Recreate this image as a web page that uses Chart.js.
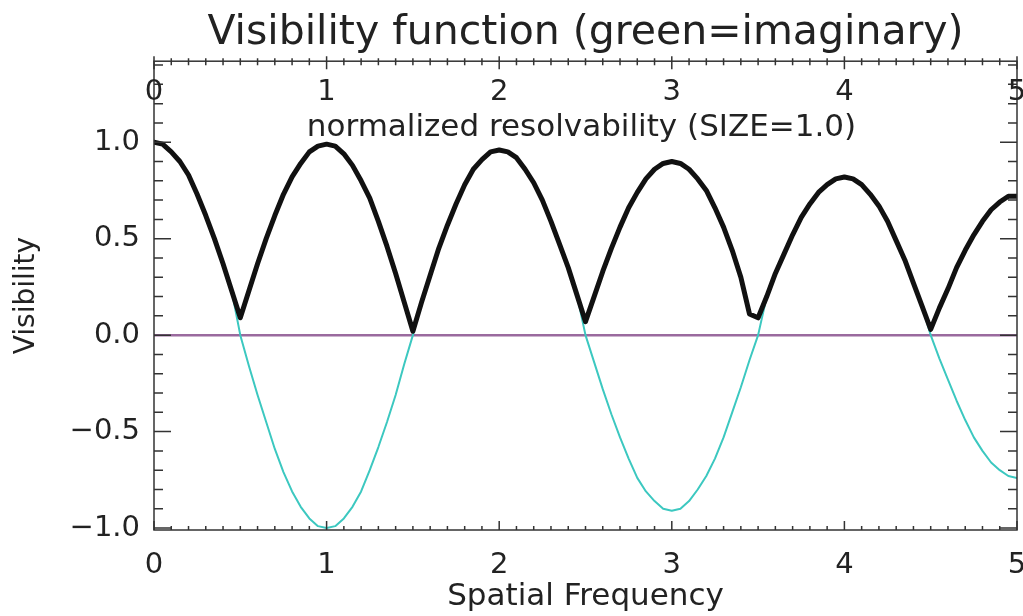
<!DOCTYPE html>
<html lang="en">
<head>
<meta charset="UTF-8">
<title>Visibility function</title>
<script src="https://cdn.jsdelivr.net/npm/chart.js"></script>
<style>
    html, body {
        margin: 0;
        padding: 0;
        background: #fff;
    }
    #wrap {
        width: 1023px;
        height: 616px;
    }
</style>
</head>
<body>
<div id="wrap"><canvas id="visChart"></canvas></div>
<script>
    // spatial frequency samples
    const freq = [
        0.00, 0.05, 0.10, 0.15, 0.20, 0.25, 0.30, 0.35, 0.40, 0.45,
        0.50, 0.55, 0.60, 0.65, 0.70, 0.75, 0.80, 0.85, 0.90, 0.95,
        1.00, 1.05, 1.10, 1.15, 1.20, 1.25, 1.30, 1.35, 1.40, 1.45,
        1.50, 1.55, 1.60, 1.65, 1.70, 1.75, 1.80, 1.85, 1.90, 1.95,
        2.00, 2.05, 2.10, 2.15, 2.20, 2.25, 2.30, 2.35, 2.40, 2.45,
        2.50, 2.55, 2.60, 2.65, 2.70, 2.75, 2.80, 2.85, 2.90, 2.95,
        3.00, 3.05, 3.10, 3.15, 3.20, 3.25, 3.30, 3.35, 3.40, 3.45,
        3.50, 3.55, 3.60, 3.65, 3.70, 3.75, 3.80, 3.85, 3.90, 3.95,
        4.00, 4.05, 4.10, 4.15, 4.20, 4.25, 4.30, 4.35, 4.40, 4.45,
        4.50, 4.55, 4.60, 4.65, 4.70, 4.75, 4.80, 4.85, 4.90, 4.95,
        5.00
    ];

    // |V| (thick black)
    const visAmp = [
        1.00, 0.99, 0.95, 0.90, 0.83, 0.73, 0.62, 0.50, 0.37, 0.23,
        0.09, 0.23, 0.37, 0.50, 0.62, 0.73, 0.82, 0.89, 0.95, 0.98,
        0.99, 0.98, 0.94, 0.88, 0.80, 0.71, 0.59, 0.46, 0.32, 0.17,
        0.02, 0.17, 0.31, 0.45, 0.57, 0.68, 0.78, 0.86, 0.91, 0.95,
        0.96, 0.95, 0.92, 0.86, 0.79, 0.70, 0.59, 0.47, 0.35, 0.21,
        0.07, 0.20, 0.33, 0.45, 0.56, 0.66, 0.74, 0.81, 0.86, 0.89,
        0.90, 0.89, 0.86, 0.81, 0.75, 0.66, 0.56, 0.44, 0.30, 0.11,
        0.09, 0.20, 0.32, 0.42, 0.52, 0.61, 0.68, 0.74, 0.78, 0.81,
        0.82, 0.81, 0.78, 0.73, 0.67, 0.59, 0.49, 0.39, 0.27, 0.15,
        0.03, 0.14, 0.24, 0.35, 0.44, 0.52, 0.59, 0.65, 0.69, 0.72,
        0.72
    ];

    // imaginary part (thin cyan), null where it sits under the black curve
    const visImag = [
        null, null, null, null, null, null, null, null, null, 0.23,
        0.00, -0.16, -0.31, -0.45, -0.59, -0.71, -0.81, -0.89, -0.95, -0.99,
        -1.00, -0.99, -0.95, -0.89, -0.81, -0.70, -0.58, -0.45, -0.31, -0.15,
        0.00, 0.17, null, null, null, null, null, null, null, null,
        null, null, null, null, null, null, null, null, null, 0.21,
        0.00, -0.14, -0.28, -0.41, -0.53, -0.64, -0.74, -0.81, -0.86, -0.90,
        -0.91, -0.90, -0.86, -0.80, -0.73, -0.64, -0.53, -0.40, -0.27, -0.13,
        0.00, 0.20, null, null, null, null, null, null, null, null,
        null, null, null, null, null, null, null, null, null, 0.15,
        0.00, -0.12, -0.23, -0.34, -0.44, -0.53, -0.60, -0.66, -0.70, -0.73,
        -0.74
    ];

    const zeroX = [0, 5];
    const zeroY = [0, 0];

    const xTicks = [0, 1, 2, 3, 4, 5];
    const yTicks = [-1.0, -0.5, 0.0, 0.5, 1.0];
    const yTickLabels = ['\u22121.0', '\u22120.5', '0.0', '0.5', '1.0'];

    const Y_MIN = -1.01, Y_MAX = 1.42;
    const FONT = '"DejaVu Sans", sans-serif';
    const INK = '#222';

    function pts(xs, ys) {
        return xs.map((x, i) => ({x: x, y: ys[i]}));
    }

    // IDL style frame: box, inward ticks on all four sides, top axis labels
    const idlFrame = {
        id: 'idlFrame',
        afterDraw(chart) {
            const {ctx, chartArea: a, scales} = chart;
            const xs = scales.x, ys = scales.y;
            ctx.save();
            ctx.strokeStyle = '#333';
            ctx.lineWidth = 1.5;
            ctx.strokeRect(a.left, a.top, a.right - a.left, a.bottom - a.top);

            ctx.beginPath();
            // y ticks, left and right, pointing in
            for (let k = -10; k <= 14; k++) {
                const py = ys.getPixelForValue(k / 10);
                const len = (k % 5 === 0) ? 17 : 9;
                ctx.moveTo(a.left, py); ctx.lineTo(a.left + len, py);
                ctx.moveTo(a.right, py); ctx.lineTo(a.right - len, py);
            }
            // x ticks, bottom up and top crossing
            for (let k = 0; k <= 50; k++) {
                const px = xs.getPixelForValue(k / 10);
                const major = k % 10 === 0;
                ctx.moveTo(px, a.bottom); ctx.lineTo(px, a.bottom - (major ? 9 : 4));
                ctx.moveTo(px, a.top - (major ? 5 : 3)); ctx.lineTo(px, a.top + (major ? 8 : 4));
            }
            ctx.stroke();

            ctx.fillStyle = INK;
            ctx.font = '29px ' + FONT;
            ctx.textAlign = 'center';
            ctx.textBaseline = 'middle';
            xTicks.forEach(t => {
                ctx.fillText(String(t), xs.getPixelForValue(t), a.top + 31);
            });
            ctx.font = '31px ' + FONT;
            ctx.fillText('normalized resolvability (SIZE=1.0)', (a.left + a.right) / 2 - 4, a.top + 67);
            ctx.restore();
        }
    };

    new Chart(document.getElementById('visChart'), {
        type: 'line',
        data: {
            datasets: [
                {
                    label: '|V|',
                    data: pts(freq, visAmp),
                    borderColor: '#111',
                    borderWidth: 5,
                    order: 1
                },
                {
                    label: 'imaginary',
                    data: pts(freq, visImag),
                    borderColor: '#3cc8c0',
                    borderWidth: 2,
                    order: 2
                },
                {
                    label: 'zero',
                    data: pts(zeroX, zeroY),
                    borderColor: '#9a6a9e',
                    borderWidth: 2.5,
                    order: 3
                }
            ]
        },
        options: {
            responsive: true,
            maintainAspectRatio: false,
            animation: false,
            layout: {padding: {left: 0, right: 6, top: 0, bottom: 0}},
            elements: {
                point: {radius: 0},
                line: {tension: 0, borderCapStyle: 'round', borderJoinStyle: 'round'}
            },
            plugins: {
                legend: {display: false},
                tooltip: {enabled: false},
                title: {
                    display: true,
                    fullSize: false,
                    text: 'Visibility function (green=imaginary)',
                    color: INK,
                    font: {family: FONT, size: 41, weight: 'normal', lineHeight: 1.2},
                    padding: {top: 9, bottom: 3}
                }
            },
            scales: {
                x: {
                    type: 'linear',
                    min: 0,
                    max: 5,
                    grid: {display: false, drawTicks: false},
                    border: {display: false},
                    afterBuildTicks: s => { s.ticks = xTicks.map(v => ({value: v})); },
                    ticks: {
                        color: INK,
                        font: {family: FONT, size: 29},
                        padding: 18,
                        maxRotation: 0,
                        autoSkip: false
                    },
                    title: {
                        display: true,
                        text: 'Spatial Frequency',
                        color: INK,
                        font: {family: FONT, size: 31},
                        padding: {top: 0, bottom: 0}
                    },
                    afterFit: s => {
                        s.height = 86;
                        s.paddingLeft = 0;
                        s.paddingRight = 0;
                    }
                },
                y: {
                    min: Y_MIN,
                    max: Y_MAX,
                    grid: {display: false, drawTicks: false},
                    border: {display: false},
                    afterBuildTicks: s => { s.ticks = yTicks.map(v => ({value: v})); },
                    ticks: {
                        color: INK,
                        font: {family: FONT, size: 29},
                        padding: 14,
                        autoSkip: false,
                        callback: (v, i) => yTickLabels[i]
                    },
                    title: {
                        display: true,
                        text: 'Visibility',
                        color: INK,
                        font: {family: FONT, size: 28},
                        padding: {top: 10, bottom: 0}
                    },
                    afterFit: s => {
                        s.width = 154;
                        s.paddingTop = 0;
                        s.paddingBottom = 0;
                    }
                }
            }
        },
        plugins: [idlFrame]
    });
</script>
</body>
</html>
